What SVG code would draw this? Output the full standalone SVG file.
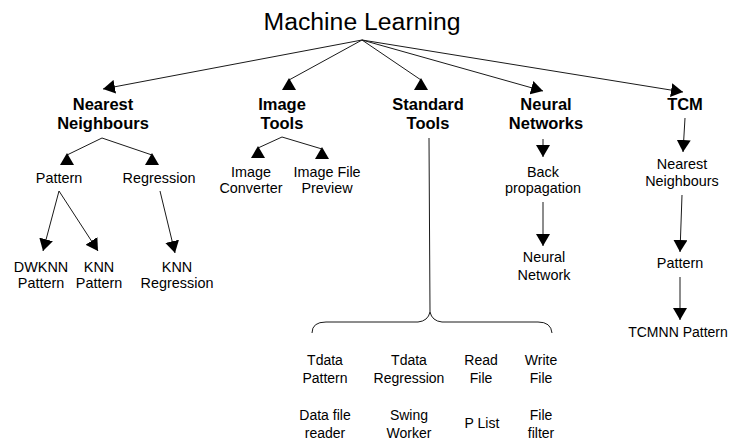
<svg xmlns="http://www.w3.org/2000/svg" width="731" height="441" viewBox="0 0 731 441">
  <style>
    text { font-family: "Liberation Sans", Arial, sans-serif; fill: #000; text-anchor: middle; }
    .title { font-size: 23px; }
    .cat { font-size: 16.5px; font-weight: bold; }
    .item { font-size: 14.4px; }
    .small { font-size: 14px; }
    .edge { stroke: #1a1a1a; stroke-width: 1; fill: none; }
    .arrow { marker-end: url(#head); }
    .arrow-up { marker-end: url(#head-up); }
  </style>
  <defs>
    <!-- arrowhead that follows the line direction -->
    <marker id="head" markerUnits="userSpaceOnUse" viewBox="0 0 12 14" markerWidth="12" markerHeight="14" refX="12" refY="7" orient="auto">
      <path d="M0,0 L12,7 L0,14 Z" fill="#000"/>
    </marker>
    <!-- upright arrowhead used on the slanted branch lines -->
    <marker id="head-up" markerUnits="userSpaceOnUse" viewBox="0 0 14 12" markerWidth="14" markerHeight="12" refX="7" refY="2" orient="0">
      <path d="M0,12 L14,12 L7,0 Z" fill="#000"/>
    </marker>
  </defs>

  <!-- connectors -->
  <g id="connectors">
    <path class="edge arrow" d="M362,40 L103,89"/>
    <path class="edge arrow-up" d="M362,40 L289,80"/>
    <path class="edge arrow-up" d="M362,40 L421,80"/>
    <path class="edge arrow" d="M362,40 L543,91"/>
    <path class="edge arrow" d="M362,40 L683,92"/>

    <path class="edge arrow-up" d="M102,138 L67,155"/>
    <path class="edge arrow-up" d="M102,138 L152,155"/>
    <path class="edge arrow" d="M59,191 L43,251"/>
    <path class="edge arrow" d="M59,191 L98,251"/>
    <path class="edge arrow" d="M160,191 L175,253"/>

    <path class="edge arrow-up" d="M282,137 L258,148"/>
    <path class="edge arrow-up" d="M282,137 L322,149"/>

    <path class="edge" d="M429,138 L430,312"/>
    <path class="edge" d="M312,333 Q312,322 326,322 L418,322 Q428,321 430,312 Q432,321 442,322 L538,322 Q551,322 552,333"/>

    <path class="edge arrow" d="M543,139 L543,157"/>
    <path class="edge arrow" d="M543,202 L543,246"/>

    <path class="edge arrow" d="M685,118 L683,152"/>
    <path class="edge arrow" d="M682,195 L680,252"/>
    <path class="edge arrow" d="M680,277 L680,320"/>
  </g>

  <g id="machine-learning">
    <text class="title" x="362" y="30" textLength="197" lengthAdjust="spacingAndGlyphs">Machine Learning</text>
  </g>

  <g id="nearest-neighbours">
    <text class="cat" x="103" y="110">Nearest</text>
    <text class="cat" x="103" y="129">Neighbours</text>
  </g>
  <g id="image-tools">
    <text class="cat" x="282" y="110">Image</text>
    <text class="cat" x="282" y="129">Tools</text>
  </g>
  <g id="standard-tools">
    <text class="cat" x="428" y="110">Standard</text>
    <text class="cat" x="428" y="129">Tools</text>
  </g>
  <g id="neural-networks">
    <text class="cat" x="546" y="110">Neural</text>
    <text class="cat" x="546" y="129">Networks</text>
  </g>
  <g id="tcm">
    <text class="cat" x="685" y="110">TCM</text>
  </g>

  <g id="nn-pattern">
    <text class="item" x="59" y="183">Pattern</text>
  </g>
  <g id="nn-regression">
    <text class="item" x="159" y="183">Regression</text>
  </g>
  <g id="dwknn-pattern">
    <text class="item" x="41" y="272">DWKNN</text>
    <text class="item" x="41" y="288">Pattern</text>
  </g>
  <g id="knn-pattern">
    <text class="item" x="99" y="272">KNN</text>
    <text class="item" x="99" y="288">Pattern</text>
  </g>
  <g id="knn-regression">
    <text class="item" x="177" y="272">KNN</text>
    <text class="item" x="177" y="288">Regression</text>
  </g>

  <g id="image-converter">
    <text class="item" x="251" y="177">Image</text>
    <text class="item" x="251" y="193">Converter</text>
  </g>
  <g id="image-file-preview">
    <text class="item" x="327" y="177">Image File</text>
    <text class="item" x="327" y="193">Preview</text>
  </g>

  <g id="back-propagation">
    <text class="item" x="543" y="177">Back</text>
    <text class="item" x="543" y="193">propagation</text>
  </g>
  <g id="neural-network">
    <text class="item" x="544" y="262">Neural</text>
    <text class="item" x="544" y="280">Network</text>
  </g>

  <g id="tcm-nearest-neighbours">
    <text class="item" x="682" y="169">Nearest</text>
    <text class="item" x="682" y="186">Neighbours</text>
  </g>
  <g id="tcm-pattern">
    <text class="item" x="680" y="268">Pattern</text>
  </g>
  <g id="tcmnn-pattern">
    <text class="small" x="678" y="337">TCMNN Pattern</text>
  </g>

  <g id="tdata-pattern">
    <text class="small" x="325" y="365">Tdata</text>
    <text class="small" x="325" y="383">Pattern</text>
  </g>
  <g id="tdata-regression">
    <text class="small" x="409" y="365">Tdata</text>
    <text class="small" x="409" y="383">Regression</text>
  </g>
  <g id="read-file">
    <text class="small" x="481" y="365">Read</text>
    <text class="small" x="481" y="383">File</text>
  </g>
  <g id="write-file">
    <text class="small" x="541" y="365">Write</text>
    <text class="small" x="541" y="383">File</text>
  </g>
  <g id="data-file-reader">
    <text class="small" x="325" y="420">Data file</text>
    <text class="small" x="325" y="438">reader</text>
  </g>
  <g id="swing-worker">
    <text class="small" x="409" y="420">Swing</text>
    <text class="small" x="409" y="438">Worker</text>
  </g>
  <g id="p-list">
    <text class="small" x="482" y="428">P List</text>
  </g>
  <g id="file-filter">
    <text class="small" x="541" y="420">File</text>
    <text class="small" x="541" y="438">filter</text>
  </g>
</svg>
